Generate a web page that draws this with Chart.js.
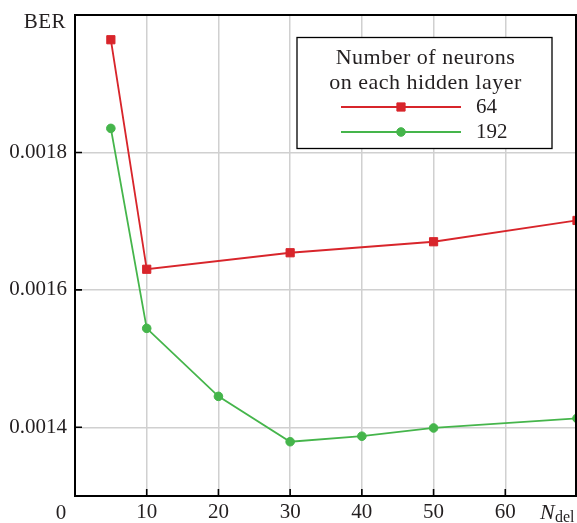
<!DOCTYPE html>
<html>
<head>
<meta charset="utf-8">
<script src="https://cdn.jsdelivr.net/npm/chart.js@4/dist/chart.umd.min.js"></script>
<style>
  html, body { margin: 0; padding: 0; background: #fff; }
  #wrap { width: 577px; height: 523px; position: relative; }
</style>
</head>
<body>
<div id="wrap"><canvas id="c" width="577" height="523"></canvas></div>
<script>
// Delay length N_del (x) and bit error rate (y) for two network widths
const delays64 = [5, 10, 30, 50, 70];
const ber64 = [0.001964, 0.001630, 0.001654, 0.001670, 0.001701];
const delays192 = [5, 10, 20, 30, 40, 50, 70];
const ber192 = [0.001835, 0.001544, 0.001445, 0.001379, 0.001387, 0.001399, 0.001413];
const seriesNames = ['64', '192'];
const yTickValues = [0.0014, 0.0016, 0.0018];
const xTickLabels = ['10', '20', '30', '40', '50', '60'];
const legendTitle = ['Number of neurons', 'on each hidden layer'];
const yAxisName = 'BER';

const RED = '#d8252b';
const GREEN = '#45b54b';
const TEXT = '#231f20';
const FONT = '"Liberation Serif", "Times New Roman", serif';

const toPoints = (xs, ys) => xs.map((x, i) => ({ x: x, y: ys[i] }));

// Frame, inward ticks, axis names and the boxed legend
const decorations = {
  id: 'decorations',
  afterDraw(chart) {
    const { ctx, chartArea: a, scales } = chart;
    const xs = scales.x, ys = scales.y;
    ctx.save();

    // top and right edges of the frame
    ctx.strokeStyle = '#000';
    ctx.lineWidth = 2;
    ctx.beginPath();
    ctx.moveTo(a.left - 1, a.top);
    ctx.lineTo(a.right - 1, a.top);
    ctx.lineTo(a.right - 1, a.bottom);
    ctx.stroke();

    // inward tick marks
    ctx.lineWidth = 1.6;
    ctx.beginPath();
    yTickValues.forEach(v => {
      const py = ys.getPixelForValue(v);
      ctx.moveTo(a.left, py);
      ctx.lineTo(a.left + 7, py);
    });
    xTickLabels.forEach(t => {
      const px = xs.getPixelForValue(Number(t));
      ctx.moveTo(px, a.bottom);
      ctx.lineTo(px, a.bottom - 7);
    });
    ctx.stroke();

    // axis names
    ctx.fillStyle = TEXT;
    ctx.font = '21px ' + FONT;
    ctx.textBaseline = 'alphabetic';
    ctx.textAlign = 'right';
    ctx.letterSpacing = '0.5px';
    ctx.fillText(yAxisName, a.left - 9, 27.5);
    ctx.letterSpacing = '0px';
    ctx.textAlign = 'center';
    ctx.textBaseline = 'middle';
    ctx.fillText('0', a.left - 14, a.bottom + 17);

    ctx.textAlign = 'left';
    ctx.textBaseline = 'alphabetic';
    ctx.font = 'italic 22px ' + FONT;
    ctx.fillText('N', 540, 519);
    ctx.font = '16px ' + FONT;
    ctx.fillText('del', 555, 522);

    // legend box
    const bx = 297, by = 37.5, bw = 255, bh = 111;
    ctx.fillStyle = '#fff';
    ctx.fillRect(bx, by, bw, bh);
    ctx.strokeStyle = '#000';
    ctx.lineWidth = 1.3;
    ctx.strokeRect(bx, by, bw, bh);

    ctx.fillStyle = TEXT;
    ctx.font = '22px ' + FONT;
    ctx.letterSpacing = '0.5px';
    ctx.textAlign = 'center';
    ctx.textBaseline = 'alphabetic';
    ctx.fillText(legendTitle[0], bx + bw / 2 + 1, 63.5);
    ctx.fillText(legendTitle[1], bx + bw / 2 + 1, 88.5);
    ctx.letterSpacing = '0px';

    chart.data.datasets.forEach((ds, i) => {
      const ly = 107 + i * 25;
      ctx.strokeStyle = ds.borderColor;
      ctx.lineWidth = ds.borderWidth;
      ctx.beginPath();
      ctx.moveTo(341, ly);
      ctx.lineTo(461, ly);
      ctx.stroke();
      ctx.fillStyle = ds.pointBackgroundColor;
      ctx.strokeStyle = ds.pointBorderColor;
      ctx.lineWidth = ds.pointBorderWidth;
      Chart.helpers.drawPoint(ctx, {
        pointStyle: ds.pointStyle, radius: ds.pointRadius, borderWidth: ds.pointBorderWidth, rotation: 0
      }, 401, ly);
      ctx.fillStyle = TEXT;
      ctx.font = '21px ' + FONT;
      ctx.textAlign = 'left';
      ctx.textBaseline = 'alphabetic';
      ctx.fillText(ds.label, 476, ly + 5.5);
    });
    ctx.restore();
  }
};

new Chart(document.getElementById('c'), {
  type: 'line',
  data: {
    datasets: [
      {
        label: seriesNames[0],
        data: toPoints(delays64, ber64),
        borderColor: RED, backgroundColor: RED,
        pointBackgroundColor: RED, pointBorderColor: RED,
        pointStyle: 'rect', pointRadius: 5.8, pointBorderWidth: 1,
        borderWidth: 1.8, tension: 0
      },
      {
        label: seriesNames[1],
        data: toPoints(delays192, ber192),
        borderColor: GREEN, backgroundColor: GREEN,
        pointBackgroundColor: GREEN, pointBorderColor: GREEN,
        pointStyle: 'circle', pointRadius: 4.3, pointBorderWidth: 1,
        borderWidth: 1.8, tension: 0
      }
    ]
  },
  options: {
    responsive: false,
    animation: false,
    events: [],
    layout: { autoPadding: false, padding: { top: 15, right: 0, left: 0, bottom: 0 } },
    plugins: { legend: { display: false }, tooltip: { enabled: false } },
    scales: {
      x: {
        type: 'linear',
        min: 0, max: 70,
        afterFit(scale) {
          scale.height = 27;
          scale.paddingLeft = 0;
          scale.paddingRight = 0;
        },
        afterBuildTicks(scale) {
          scale.ticks = xTickLabels.map(t => ({ value: Number(t) }));
        },
        ticks: {
          padding: 4,
          color: TEXT,
          font: { family: FONT, size: 21 },
          maxRotation: 0,
          callback: v => String(v)
        },
        grid: { color: '#d0d0d0', lineWidth: 1.5, drawTicks: false },
        border: { color: '#000', width: 2 }
      },
      y: {
        type: 'linear',
        min: 0.0013, max: 0.002,
        afterFit(scale) {
          scale.width = 75;
          scale.paddingTop = 0;
          scale.paddingBottom = 0;
        },
        afterBuildTicks(scale) {
          scale.ticks = yTickValues.map(v => ({ value: v }));
        },
        ticks: {
          padding: 8,
          color: TEXT,
          font: { family: FONT, size: 21 },
          callback: v => Number(v).toFixed(4)
        },
        grid: { color: '#d0d0d0', lineWidth: 1.5, drawTicks: false },
        border: { color: '#000', width: 2 }
      }
    }
  },
  plugins: [decorations]
});
</script>
</body>
</html>
